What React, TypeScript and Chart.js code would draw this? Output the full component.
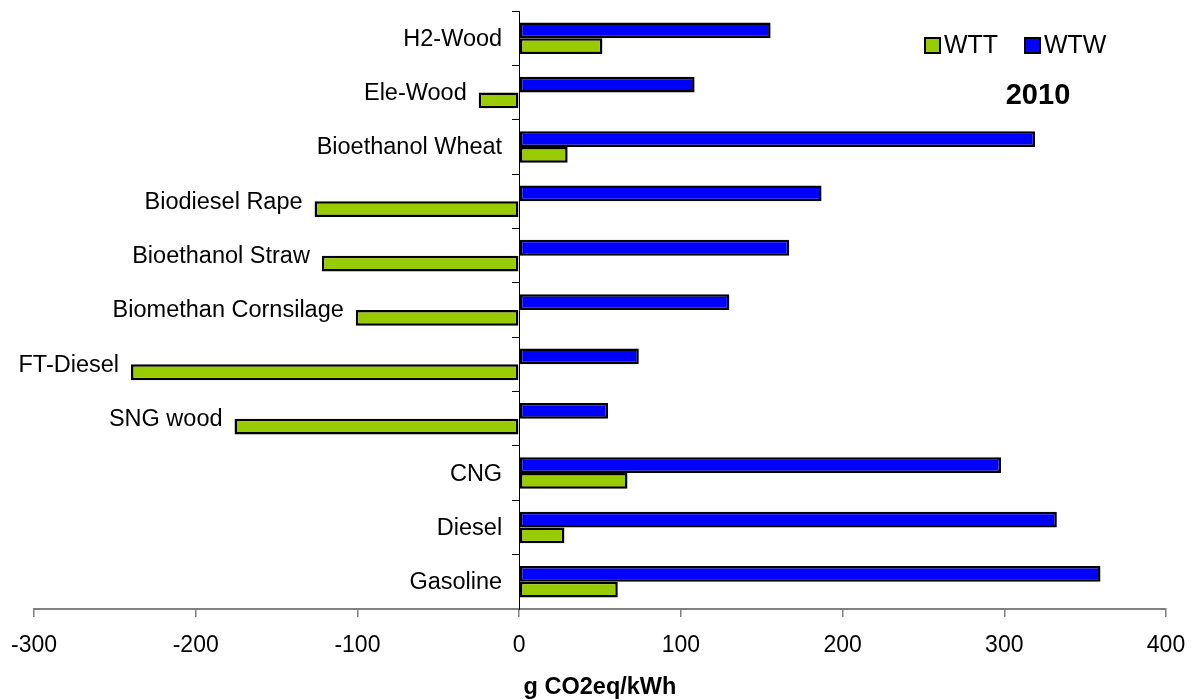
import React, { useEffect, useRef } from 'react';
import { Chart, registerables } from 'chart.js';

Chart.register(...registerables);

// Fuel pathways, top to bottom
const categories = [
  'H2-Wood',
  'Ele-Wood',
  'Bioethanol Wheat',
  'Biodiesel Rape',
  'Bioethanol Straw',
  'Biomethan Cornsilage',
  'FT-Diesel',
  'SNG wood',
  'CNG',
  'Diesel',
  'Gasoline',
];

// Well-to-wheel emissions (g CO2eq/kWh)
const wtwValues = [155.5, 108.5, 319, 187, 167, 130, 74, 55, 298, 332.5, 359.5];
// Well-to-tank emissions (g CO2eq/kWh)
const wttValues = [51.5, -25, 30, -126.5, -122, -101, -240, -176, 67, 28, 61];

const xMin = -300;
const xMax = 400;
const xStep = 100;

const wttName = 'WTT';
const wtwName = 'WTW';
const yearLabel = '2010';
const xAxisTitle = 'g CO2eq/kWh';

const FONT = '"Liberation Sans", Arial, Helvetica, sans-serif';
const GREEN = '#99CC00';
const BLUE = '#0000FF';

// Category names sit to the left of the axis, or of a negative WTT bar.
const categoryLabelsPlugin = {
  id: 'categoryLabels',
  afterDatasetsDraw(chart: any) {
    const { ctx, scales } = chart;
    const x = scales.x;
    const y = scales.y;
    ctx.save();
    ctx.font = `23.5px ${FONT}`;
    ctx.fillStyle = '#000';
    ctx.textAlign = 'right';
    ctx.textBaseline = 'middle';
    categories.forEach((name, i) => {
      const v = wttValues[i];
      const anchor = x.getPixelForValue(Math.min(0, v));
      const gap = v < 0 ? 12 : 17;
      ctx.fillText(name, anchor - gap, y.getPixelForValue(i) + 1);
    });
    ctx.restore();
  },
};

// Legend (WTT first) and the year tag, inside the plot area.
const legendPlugin = {
  id: 'legendAndYear',
  afterDraw(chart: any) {
    const { ctx } = chart;
    const ds = chart.data.datasets;
    const items = [ds[1], ds[0]];
    const starts = [925, 1025];
    ctx.save();
    ctx.font = `25px ${FONT}`;
    ctx.textAlign = 'left';
    ctx.textBaseline = 'middle';
    items.forEach((d: any, k: number) => {
      const bx = starts[k];
      const by = 38;
      ctx.fillStyle = d.backgroundColor;
      ctx.fillRect(bx, by, 15, 15);
      ctx.lineWidth = 2;
      ctx.strokeStyle = '#000';
      ctx.strokeRect(bx, by, 15, 15);
      ctx.fillStyle = '#000';
      ctx.fillText(d.label, bx + 19, by + 8);
    });
    ctx.font = `bold 29px ${FONT}`;
    ctx.textAlign = 'center';
    ctx.fillText(yearLabel, 1038, 96);
    ctx.restore();
  },
};

export default function App() {
  const canvasRef = useRef<HTMLCanvasElement | null>(null);

  useEffect(() => {
    const canvas = canvasRef.current;
    if (!canvas) return;
    const chart = new Chart(canvas, {
      type: 'bar',
      data: {
        labels: categories,
        datasets: [
          {
            label: wtwName,
            data: wtwValues,
            backgroundColor: BLUE,
            borderColor: '#000',
            borderWidth: 2.5,
            borderSkipped: false,
            categoryPercentage: 0.58,
            barPercentage: 1,
          },
          {
            label: wttName,
            data: wttValues,
            backgroundColor: GREEN,
            borderColor: '#000',
            borderWidth: 2.5,
            borderSkipped: false,
            categoryPercentage: 0.58,
            barPercentage: 1,
          },
        ],
      },
      options: {
        indexAxis: 'y',
        responsive: false,
        animation: false,
        devicePixelRatio: 1,
        layout: { autoPadding: false, padding: { left: 34, right: 29, top: 11, bottom: 0 } },
        plugins: {
          legend: { display: false },
          tooltip: { enabled: false },
        },
        scales: {
          x: {
            type: 'linear',
            position: 'bottom',
            min: xMin,
            max: xMax,
            afterFit: (scale: any) => {
              scale.height = 90;
              scale.paddingLeft = 0;
              scale.paddingRight = 0;
            },
            ticks: {
              stepSize: xStep,
              color: '#000',
              padding: 15,
              font: { family: FONT, size: 23 },
            },
            grid: {
              drawOnChartArea: false,
              drawTicks: true,
              tickLength: 8,
              color: '#808080',
              lineWidth: 1.5,
            },
            border: { display: true, color: '#808080', width: 2 },
            title: {
              display: true,
              text: xAxisTitle,
              color: '#000',
              padding: 0,
              font: { family: FONT, size: 23.5, weight: 'bold', lineHeight: 1 },
            },
          },
          y: {
            type: 'category',
            position: { x: 0 },
            offset: true,
            ticks: { display: false },
            grid: {
              drawOnChartArea: false,
              drawTicks: true,
              tickLength: 7,
              offset: true,
              color: '#000',
              lineWidth: 1,
            },
            border: { display: true, color: '#000', width: 1 },
          },
        },
      } as any,
      plugins: [categoryLabelsPlugin, legendPlugin],
    });
    return () => chart.destroy();
  }, []);

  return (
    <div style={{ position: 'absolute', left: 0, top: 0, width: 1195, height: 699, background: '#fff' }}>
      <canvas ref={canvasRef} width={1195} height={699} style={{ display: 'block' }} />
    </div>
  );
}
